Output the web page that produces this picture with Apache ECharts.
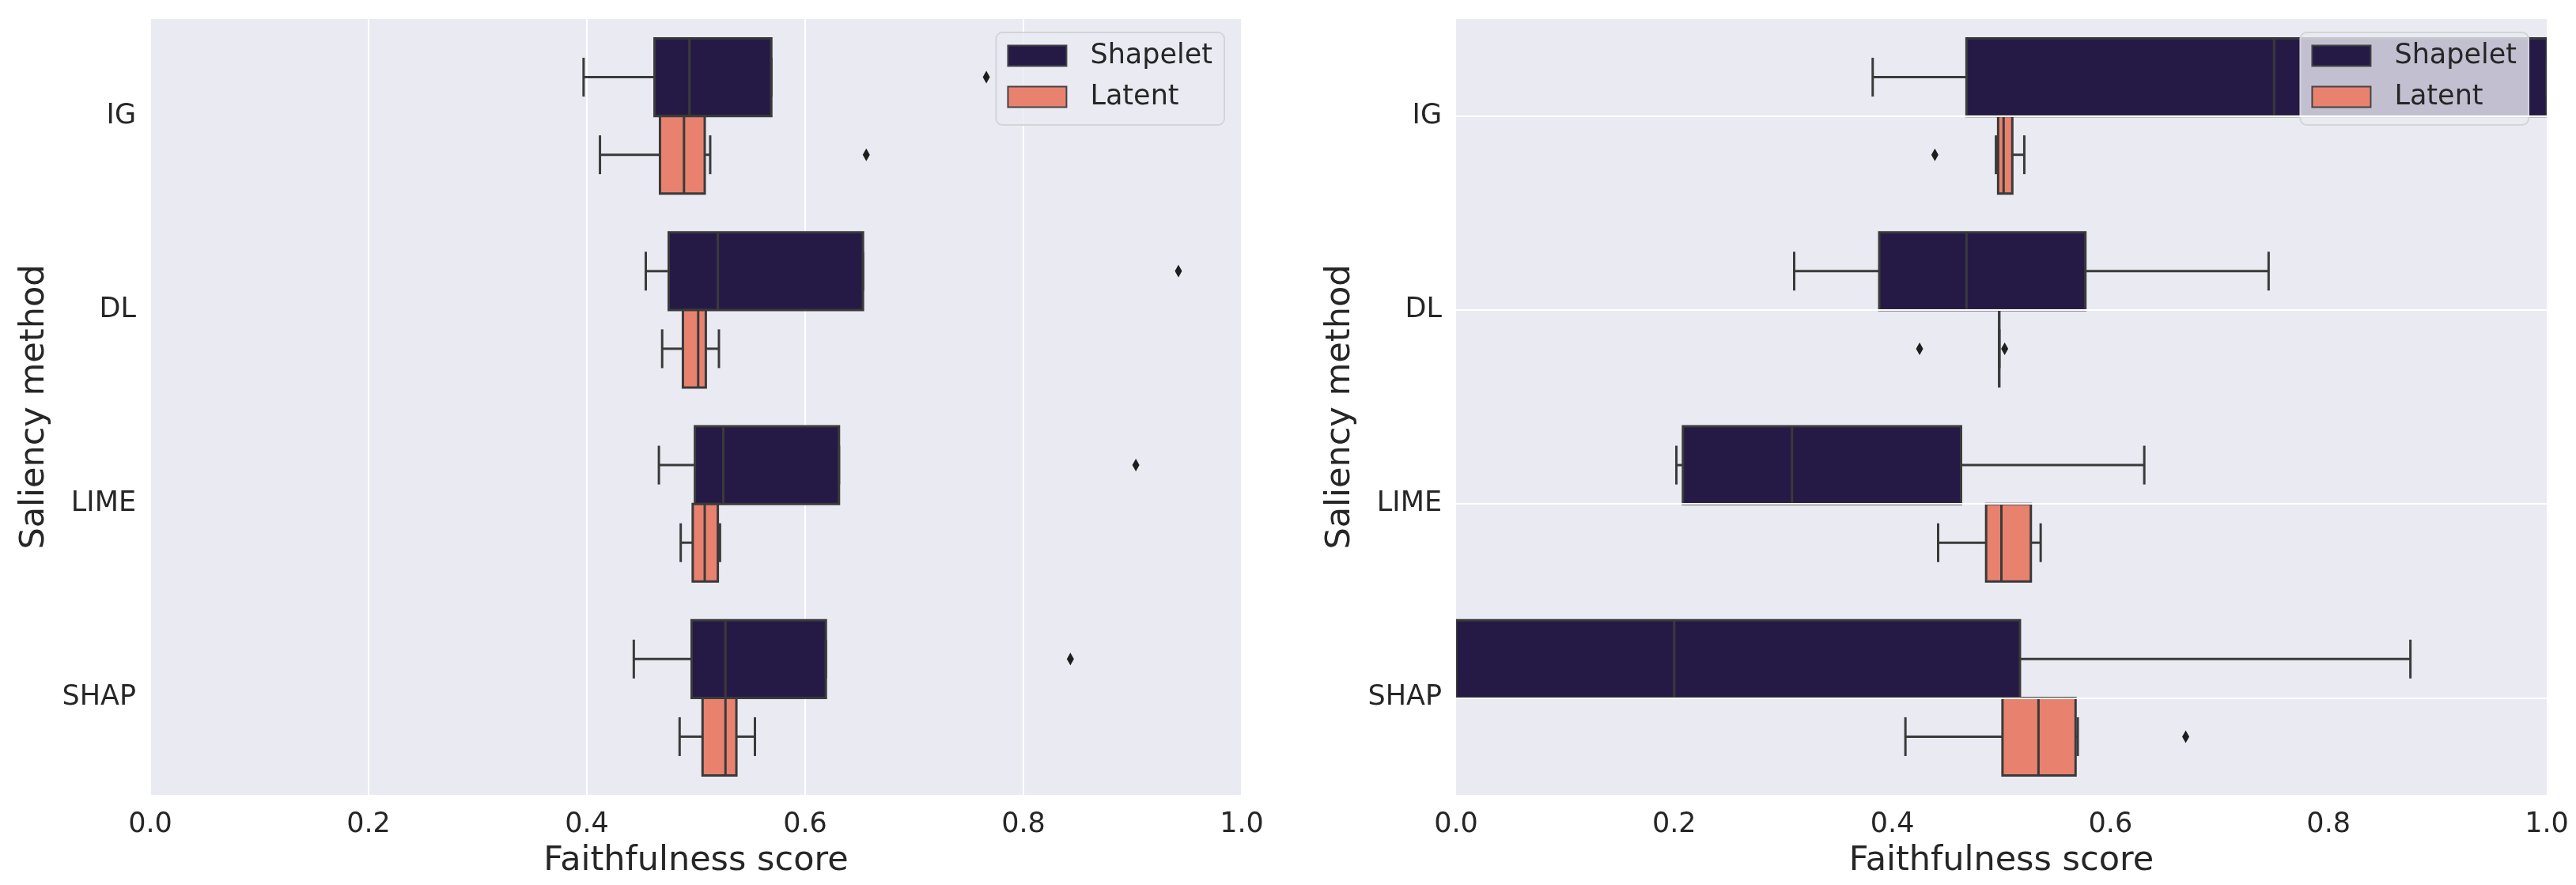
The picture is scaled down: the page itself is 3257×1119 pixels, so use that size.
<!DOCTYPE html>
<html><head><meta charset="utf-8">
<script src="https://cdn.jsdelivr.net/npm/echarts@6/dist/echarts.min.js"></script>
<style>html,body{margin:0;padding:0;background:#fff}#c{width:3257px;height:1119px}</style>
</head><body><div id="c"></div>
<script>
// categories (top to bottom)
const categories = ['IG', 'DL', 'LIME', 'SHAP'];
const seriesNames = ['Shapelet', 'Latent'];
const xTickValues = [0.0, 0.2, 0.4, 0.6, 0.8, 1.0];

// each row: [lower whisker, Q1, median, Q3, upper whisker]
const leftShapelet = [
  [0.397, 0.462, 0.494, 0.569, 0.569],
  [0.454, 0.475, 0.520, 0.653, 0.653],
  [0.466, 0.499, 0.525, 0.631, 0.631],
  [0.443, 0.496, 0.527, 0.619, 0.619]
];
const leftLatent = [
  [0.412, 0.467, 0.489, 0.508, 0.513],
  [0.469, 0.488, 0.502, 0.509, 0.521],
  [0.486, 0.497, 0.508, 0.520, 0.522],
  [0.485, 0.506, 0.527, 0.537, 0.554]
];
// outliers: [category index, value]
const leftShapeletOutliers = [[0, 0.766], [1, 0.942], [2, 0.903], [3, 0.843]];
const leftLatentOutliers = [[0, 0.656]];

const rightShapelet = [
  [0.382, 0.468, 0.750, 1.000, 1.000],
  [0.310, 0.388, 0.468, 0.577, 0.745],
  [0.202, 0.208, 0.308, 0.463, 0.631],
  [0.000, 0.000, 0.200, 0.517, 0.875]
];
const rightLatent = [
  [0.495, 0.497, 0.502, 0.510, 0.521],
  [0.498, 0.498, 0.498, 0.498, 0.498],
  [0.442, 0.486, 0.500, 0.527, 0.536],
  [0.412, 0.501, 0.534, 0.568, 0.570]
];
const rightShapeletOutliers = [];
const rightLatentOutliers = [[0, 0.439], [1, 0.425], [1, 0.503], [3, 0.669]];

const COLORS = ['#251a46', '#e8826f'];
const LINE = '#3a3a3a';
const TEXT = '#262626';
const FONT = 'DejaVu Sans';

function boxSeries(name, rows, idx, side, color) {
  return {
    type: 'custom', name: name, xAxisIndex: idx, yAxisIndex: idx, z: 3, clip: true,
    itemStyle: { color: color },
    encode: { x: [1, 2, 3, 4, 5], y: 0 },
    data: rows.map((r, i) => [i].concat(r)),
    renderItem: function (params, api) {
      const cat = api.value(0);
      const X = [1, 2, 3, 4, 5].map(k => api.coord([api.value(k), cat])[0]);
      const cy = api.coord([0, cat])[1];
      const band = api.size([0, 1])[1];
      const h = band * 0.4;
      const top = side < 0 ? cy - h : cy;
      const ym = top + h / 2;
      const ls = { stroke: LINE, lineWidth: 3 };
      return { type: 'group', children: [
        { type: 'line', shape: { x1: X[0], y1: ym, x2: X[1], y2: ym }, style: ls },
        { type: 'line', shape: { x1: X[3], y1: ym, x2: X[4], y2: ym }, style: ls },
        { type: 'rect', shape: { x: X[1], y: top, width: X[3] - X[1], height: h },
          style: { fill: color, stroke: LINE, lineWidth: 3 } },
        { type: 'line', shape: { x1: X[2], y1: top, x2: X[2], y2: top + h }, style: ls },
        { type: 'line', shape: { x1: X[0], y1: ym - h / 4, x2: X[0], y2: ym + h / 4 }, style: ls },
        { type: 'line', shape: { x1: X[4], y1: ym - h / 4, x2: X[4], y2: ym + h / 4 }, style: ls }
      ] };
    }
  };
}

function outlierSeries(points, idx, side) {
  return {
    type: 'custom', xAxisIndex: idx, yAxisIndex: idx, z: 4,
    encode: { x: 1, y: 0 },
    data: points,
    renderItem: function (params, api) {
      const p = api.coord([api.value(1), api.value(0)]);
      const band = api.size([0, 1])[1];
      const y = p[1] + side * band * 0.2;
      const x = p[0];
      return { type: 'polygon',
        shape: { points: [[x, y - 8], [x + 4.5, y], [x, y + 8], [x - 4.5, y]] },
        style: { fill: '#1e1e1e' } };
    }
  };
}

function gridLineSeries(idx) {
  return {
    type: 'line', xAxisIndex: idx, yAxisIndex: idx, data: [], z: 1, silent: true,
    markLine: {
      silent: true, symbol: 'none', label: { show: false }, animation: false,
      lineStyle: { color: '#ffffff', width: 2, type: 'solid' },
      emphasis: { disabled: true },
      data: categories.map(c => ({ yAxis: c }))
    }
  };
}

function xAxis(idx, showSplit) {
  return {
    type: 'value', gridIndex: idx, min: 0, max: 1, interval: 0.2,
    axisLine: { show: false }, axisTick: { show: false },
    axisLabel: { fontSize: 35, color: TEXT, fontFamily: FONT, margin: 20,
      formatter: v => xTickValues.some(t => Math.abs(t - v) < 1e-9) ? v.toFixed(1) : '' },
    splitLine: { show: showSplit, lineStyle: { color: '#ffffff', width: 2 } },
    name: 'Faithfulness score', nameLocation: 'middle', nameGap: 62,
    nameTextStyle: { fontSize: 43, color: TEXT, fontFamily: FONT }
  };
}

function yAxis(idx) {
  return {
    type: 'category', gridIndex: idx, data: categories, inverse: true,
    axisLine: { show: false }, axisTick: { show: false },
    axisLabel: { fontSize: 35, color: TEXT, fontFamily: FONT, margin: 18 },
    splitLine: { show: false },
    name: 'Saliency method', nameLocation: 'middle', nameGap: 125, nameRotate: 90,
    nameTextStyle: { fontSize: 43, color: TEXT, fontFamily: FONT }
  };
}

function legend(right) {
  return {
    right: right, top: 41, orient: 'vertical', selectedMode: false,
    backgroundColor: 'rgba(234,234,242,0.8)', borderColor: '#d4d4d8', borderWidth: 2,
    borderRadius: 8, padding: [12, 15, 18, 14],
    itemWidth: 74, itemHeight: 26, itemGap: 17,
    textStyle: { fontSize: 35, color: TEXT, fontFamily: FONT, padding: [0, 0, 0, 25] },
    data: seriesNames.map((n, i) => ({ name: n, icon: 'rect',
      itemStyle: { color: COLORS[i], borderColor: '#444444', borderWidth: 2 } }))
  };
}

const chart = echarts.init(document.getElementById('c'), null, { renderer: 'canvas' });
chart.setOption({
  animation: false,
  backgroundColor: '#ffffff',
  grid: [
    { left: 190, top: 24, width: 1380, height: 981, show: true, backgroundColor: '#eaeaf2', borderWidth: 0 },
    { left: 1841, top: 24, width: 1379, height: 981, show: true, backgroundColor: '#eaeaf2', borderWidth: 0 }
  ],
  xAxis: [xAxis(0, true), xAxis(1, false)],
  yAxis: [yAxis(0), yAxis(1)],
  legend: [legend(3257 - 1548), legend(3257 - 3197)],
  series: [
    gridLineSeries(1),
    boxSeries('Shapelet', leftShapelet, 0, -1, COLORS[0]),
    boxSeries('Latent', leftLatent, 0, 1, COLORS[1]),
    outlierSeries(leftShapeletOutliers, 0, -1),
    outlierSeries(leftLatentOutliers, 0, 1),
    boxSeries('Shapelet', rightShapelet, 1, -1, COLORS[0]),
    boxSeries('Latent', rightLatent, 1, 1, COLORS[1]),
    outlierSeries(rightShapeletOutliers, 1, -1),
    outlierSeries(rightLatentOutliers, 1, 1)
  ]
});
</script></body></html>
